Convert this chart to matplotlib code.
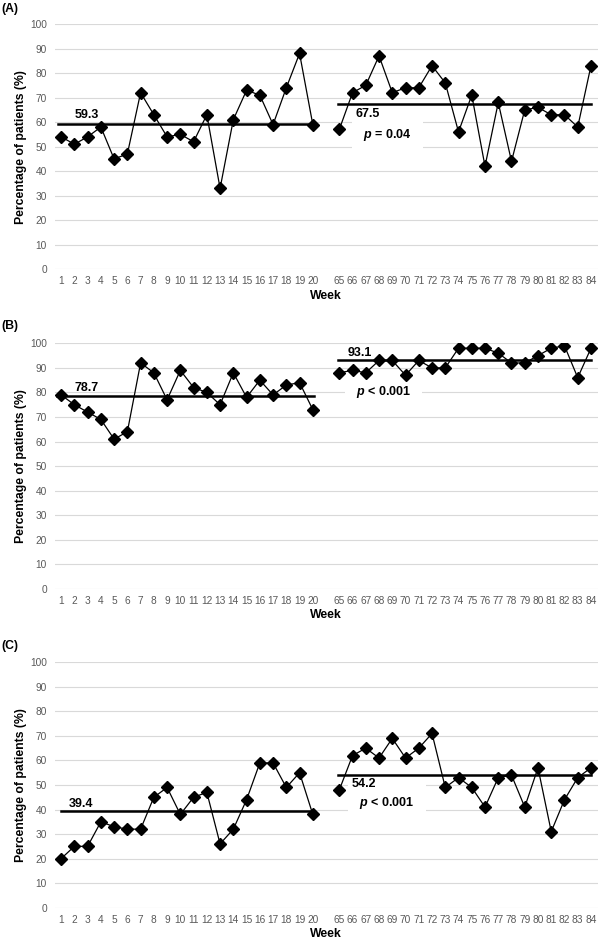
import matplotlib
matplotlib.use("Agg")
import matplotlib.pyplot as plt
import numpy as np

plt.rcParams['font.family'] = ['Liberation Sans', 'DejaVu Sans']
plt.rcParams['mathtext.fontset'] = 'custom'
plt.rcParams['mathtext.it'] = 'Liberation Sans:italic:bold'
plt.rcParams['mathtext.rm'] = 'Liberation Sans:bold'
plt.rcParams['mathtext.bf'] = 'Liberation Sans:bold'

# ---- data ----
weeks_early = [str(w) for w in range(1, 21)]
weeks_late = [str(w) for w in range(65, 85)]
categories = weeks_early + [""] + weeks_late

panel_labels = ["(A)", "(B)", "(C)"]

a_early = [54, 51, 54, 58, 45, 47, 72, 63, 54, 55, 52, 63, 33, 61, 73, 71, 59, 74, 88, 59]
a_late = [57, 72, 75, 87, 72, 74, 74, 83, 76, 56, 71, 42, 68, 44, 65, 66, 63, 63, 58, 83]
b_early = [79, 75, 72, 69, 61, 64, 92, 88, 77, 89, 82, 80, 75, 88, 78, 85, 79, 83, 84, 73]
b_late = [88, 89, 88, 93, 93, 87, 93, 90, 90, 98, 98, 98, 96, 92, 92, 95, 98, 99, 86, 98]
c_early = [20, 25, 25, 35, 33, 32, 32, 45, 49, 38, 45, 47, 26, 32, 44, 59, 59, 49, 55, 38]
c_late = [48, 62, 65, 61, 69, 61, 65, 71, 49, 53, 49, 41, 53, 54, 41, 57, 31, 44, 53, 57]

mean_early = [59.3, 78.7, 39.4]
mean_late = [67.5, 93.1, 54.2]
p_texts = ["$p$ = 0.04", "$p$ < 0.001", "$p$ < 0.001"]

early_series = [a_early, b_early, c_early]
late_series = [a_late, b_late, c_late]

# ---- layout ----
W, H = 598, 940
fig = plt.figure(figsize=(W / 100, H / 100), dpi=100)

ax_left, ax_right = 54.5, 597.6
panel_px = [(24.0, 269.3), (343.3, 589.0), (662.3, 907.7)]
label_y = [3, 320, 640]

# annotation placements (x in category index, y in data units)
early_lbl_pos = [(1.05, 62.9), (0.98, 81.9), (0.6, 42.3)]
late_lbl_pos = [(22.2, 63.2), (21.6, 96.0), (21.9, 50.4)]
p_pos = [(22.8, 54.7), (22.25, 80.0), (22.5, 42.7)]
early_line_span = [(-0.25, 19.05), (-0.33, 19.1), (0.0, 19.05)]
late_line_span = [(20.9, 40.0), (20.9, 40.0), (20.9, 40.0)]

tick_color = '#595959'
grid_color = '#d9d9d9'

x_early = [categories.index(w) for w in weeks_early]
x_late = [categories.index(w) for w in weeks_late]

for i in range(3):
    top, bot = panel_px[i]
    ax = fig.add_axes([ax_left / W, 1 - bot / H, (ax_right - ax_left) / W, (bot - top) / H])
    ax.set_xlim(-0.5, len(categories) - 0.5)
    ax.set_ylim(0, 100)
    ax.set_yticks(np.arange(0, 101, 10))
    ax.set_xticks(np.arange(len(categories)))
    ax.set_xticklabels(categories)
    for s in ax.spines.values():
        s.set_visible(False)
    ax.tick_params(axis='both', length=0, labelsize=7.3, colors=tick_color)
    ax.tick_params(axis='y', pad=5.4)
    ax.tick_params(axis='x', pad=5.0)
    ax.grid(axis='y', color=grid_color, linewidth=0.8, zorder=0)
    ax.set_axisbelow(True)

    # mean lines
    ax.plot(early_line_span[i], [mean_early[i]] * 2, color='black', lw=1.8, zorder=2)
    ax.plot(late_line_span[i], [mean_late[i]] * 2, color='black', lw=1.8, zorder=2)

    # data
    for xs, ys in ((x_early, early_series[i]), (x_late, late_series[i])):
        ax.plot(xs, ys, color='black', lw=0.9, marker='D', ms=5.8,
                markerfacecolor='black', markeredgecolor='black', zorder=3)

    ax.text(early_lbl_pos[i][0], early_lbl_pos[i][1], f"{mean_early[i]:.1f}",
            fontsize=9, fontweight='bold', ha='left', va='center', zorder=4)
    ax.text(late_lbl_pos[i][0], late_lbl_pos[i][1], f"{mean_late[i]:.1f}",
            fontsize=9, fontweight='bold', ha='left', va='center', zorder=4)
    ax.text(p_pos[i][0], p_pos[i][1], p_texts[i], fontsize=9, fontweight='bold',
            ha='left', va='center', zorder=1,
            bbox=dict(boxstyle='square,pad=0.9', fc='white', ec='none'))

    ax.set_ylabel("Percentage of patients (%)", fontsize=8.8, fontweight='bold', labelpad=2.5)
    ax.set_xlabel("Week", fontsize=8.8, fontweight='bold', labelpad=2.5)

    fig.text(1 / W, 1 - label_y[i] / H, panel_labels[i], fontsize=8.8,
             fontweight='bold', ha='left', va='top')

fig.savefig("out.png", dpi=100, facecolor='white')
